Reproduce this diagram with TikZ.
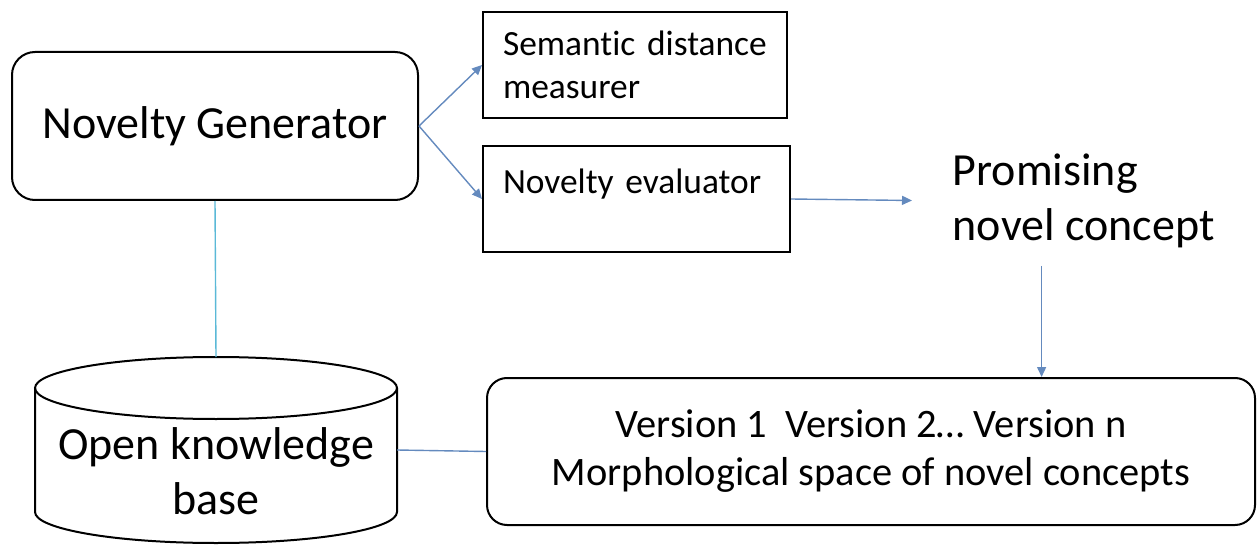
\documentclass[tikz,border=0pt]{standalone}
\usepackage{fontspec}
\setmainfont[RawFeature=-liga]{Carlito}
\usetikzlibrary{arrows.meta}
\definecolor{linkblue}{RGB}{100,138,190}
\definecolor{linkcyan}{RGB}{90,185,215}
\tikzset{
  bigfont/.style={font=\fontsize{23}{27.5}\selectfont},
  smallfont/.style={font=\fontsize{17.7}{21.5}\selectfont},
  genbox/.style={draw, line width=1pt, rounded corners=11.5pt, bigfont,
    minimum width=203pt, minimum height=74pt},
  toolbox/.style={draw, line width=1pt, smallfont, align=left,
    inner xsep=10pt, minimum height=53pt},
  spacebox/.style={draw, line width=1pt, rounded corners=10pt, align=center,
    font=\fontsize{20.2}{24}\selectfont, minimum width=384pt, minimum height=73.5pt},
  basecyl/.style={outer sep=0pt, inner sep=0pt, minimum width=181pt, minimum height=93pt},
  cylline/.style={line width=1pt},
  link/.style={linkblue, line width=0.7pt},
  arrow/.style={link, -{Triangle[length=5pt,width=4.5pt]}},
}
\begin{document}
\begin{tikzpicture}[thick, x=0.5pt, y=-0.5pt]
    \useasboundingbox (0,0) rectangle (1257,545);

    % main blocks
    \node [genbox] (gen) at (215,126) {Novelty Generator};
    \node [toolbox, text width=132pt] (dist) at (635,65) {Semantic distance\\measurer};
    \node [toolbox, text width=133.5pt] (eval) at (636.5,199) {Novelty evaluator\\[-10pt]\strut};
    \node [bigfont, align=left, anchor=west, inner xsep=20pt, minimum height=64.5pt]
      (promising) at (912,200.5) {Promising\\novel concept};
    \node [spacebox] (space) at (871,451.5)
      {Version 1\ \ Version 2… Version n\\Morphological space of novel concepts};

    % knowledge base drawn as a cylinder
    \node [basecyl] (kb) at (216,450) {};
    \draw [cylline] ([yshift=-15.5pt]kb.north west) -- ([yshift=15.5pt]kb.south west)
      arc [start angle=180, end angle=360, x radius=90.5pt, y radius=15.5pt]
      -- ([yshift=-15.5pt]kb.north east);
    \draw [cylline] ([yshift=-15.5pt]kb.north) ellipse [x radius=90.5pt, y radius=15.5pt];
    \node [bigfont, align=center] (kblabel) at ([yshift=-10.75pt]kb.center) {Open knowledge\\base};

    % connectors
    \draw [arrow] (gen.east) -- (dist.west);
    \draw [arrow] (gen.east) -- (eval.west);
    \draw [arrow] (eval.east) -- (promising.west);
    \coordinate (drop) at ([xshift=-21pt]promising.south);
    \draw [arrow] (drop) -- (drop |- space.north);
    \draw [linkcyan, line width=0.7pt] (gen.south) -- (kb.north);
    \draw [link] (kb.east) -- (space.west);
\end{tikzpicture}
\end{document}
